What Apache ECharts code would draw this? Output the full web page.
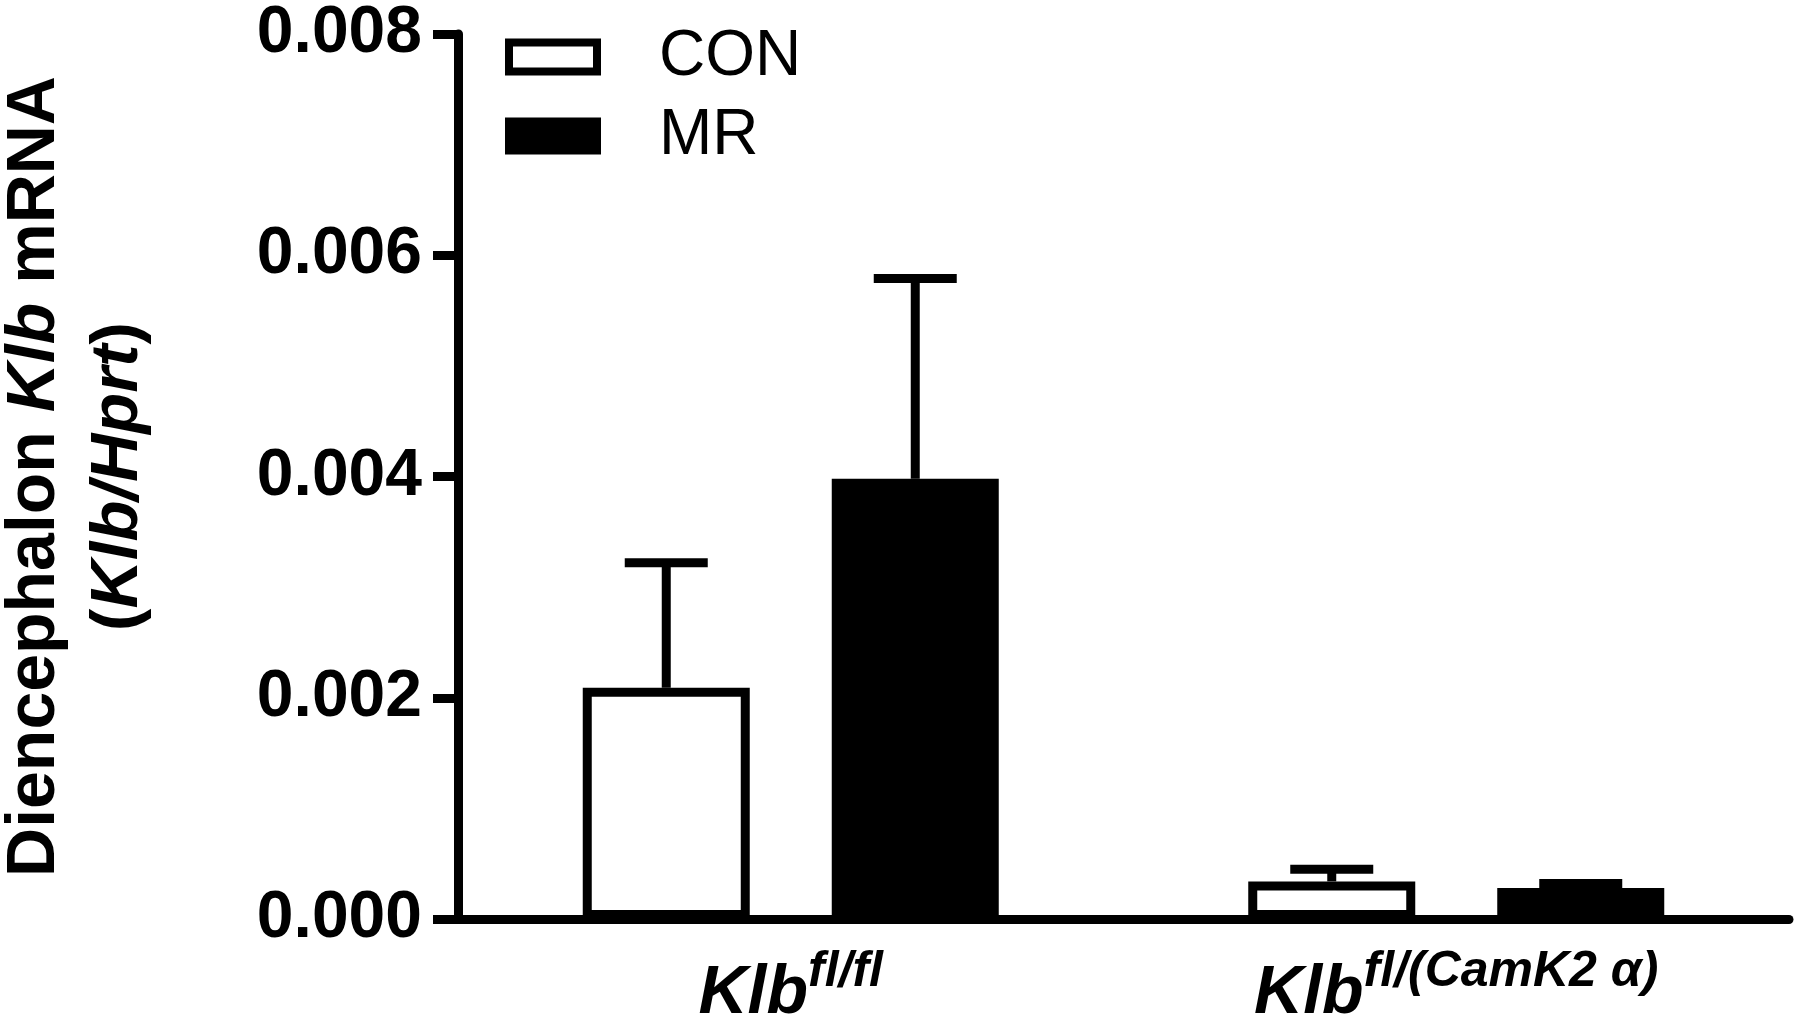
<!DOCTYPE html>
<html><head><meta charset="utf-8">
<script src="https://cdn.jsdelivr.net/npm/echarts@6/dist/echarts.min.js"></script>
<style>html,body{margin:0;padding:0;background:#fff}#c{width:1800px;height:1027px}</style>
</head><body><div id="c"></div>
<script>
// ---- data ----
const catMain = ['Klb', 'Klb'];
const catSup = ['fl/fl', 'fl/(CamK2 α)'];
const categories = ['Klb fl/fl', 'Klb fl/(CamK2 α)'];
const seriesNames = ['CON', 'MR'];
const conValues = [0.00209, 0.00034];
const conErrors = [0.00113, 0.00011];
const mrValues = [0.00398, 0.00028];
const mrErrors = [0.00181, 0.00004];
const yTickValues = [0, 0.002, 0.004, 0.006, 0.008];
const yTickLabels = ['0.000', '0.002', '0.004', '0.006', '0.008'];

// ---- style/layout ----
const FONT = '"Liberation Sans", Arial, Helvetica, sans-serif';
const BAR_W = 167;
const BAR_GAP_PX = 82;
const BAR_BORDER = 9;
const offsets = [-(BAR_W + BAR_GAP_PX) / 2, (BAR_W + BAR_GAP_PX) / 2];
const CAP_HALF = 41.5;

function errSeries(vals, errs, sIdx) {
  return {
    type: 'custom', z: 5, silent: true,
    encode: { x: 0, y: [1, 2] },
    data: vals.map((v, i) => [i, v, v + errs[i]]),
    renderItem(params, api) {
      const i = api.value(0);
      const base = api.coord([i, api.value(1)]);
      const top = api.coord([i, api.value(2)]);
      const x = base[0] + offsets[sIdx];
      return {
        type: 'group', children: [
          { type: 'line', shape: { x1: x, y1: base[1], x2: x, y2: top[1] }, style: { stroke: '#000', lineWidth: 9 } },
          { type: 'line', shape: { x1: x - CAP_HALF, y1: top[1], x2: x + CAP_HALF, y2: top[1] }, style: { stroke: '#000', lineWidth: 9 } }
        ]
      };
    }
  };
}

const chart = echarts.init(document.getElementById('c'), null, { renderer: 'canvas' });
chart.setOption({
  animation: false,
  backgroundColor: '#fff',
  textStyle: { fontFamily: FONT },
  grid: { left: 458, right: 11, top: 34, bottom: 108, containLabel: false, outerBoundsMode: 'none' },
  legend: {
    orient: 'vertical', left: 500, top: 20, itemGap: 15,
    itemWidth: 88, itemHeight: 29, icon: 'rect',
    textStyle: { fontFamily: FONT, fontSize: 64, lineHeight: 64, color: '#000', padding: [0, 0, 0, 57] },
    data: [
      { name: seriesNames[0], itemStyle: { color: '#fff', borderColor: '#000', borderWidth: 8 } },
      { name: seriesNames[1], itemStyle: { color: '#000', borderColor: '#000', borderWidth: 8 } }
    ]
  },
  xAxis: {
    type: 'category', data: categories,
    axisLine: { lineStyle: { color: '#000', width: 9 } },
    axisTick: { show: false },
    axisLabel: {
      margin: 40, interval: 0,
      formatter: (v, idx) => '{k|' + catMain[idx] + '}{s|' + catSup[idx] + '}',
      rich: {
        k: { fontFamily: FONT, fontSize: 68, fontWeight: 'bold', fontStyle: 'italic', color: '#000', lineHeight: 70 },
        s: { fontFamily: FONT, fontSize: 50, fontWeight: 'bold', fontStyle: 'italic', color: '#000', lineHeight: 51, padding: [0, 0, 43, 0] }
      }
    }
  },
  yAxis: {
    type: 'value', min: 0, max: 0.008, interval: 0.002,
    axisLine: { show: true, lineStyle: { color: '#000', width: 9 } },
    axisTick: { show: true, length: 25, lineStyle: { color: '#000', width: 9 } },
    splitLine: { show: false },
    axisLabel: {
      margin: 36, color: '#000', fontFamily: FONT, fontSize: 66, fontWeight: 'bold',
      formatter: v => { const k = yTickValues.findIndex(t => Math.abs(t - v) < 1e-9); return k >= 0 ? yTickLabels[k] : ''; }
    },
    name: '{b|Diencephalon }{i|Klb}{b| mRNA}\n{c|(}{j|Klb/Hprt}{c|)}',
    nameLocation: 'middle', nameRotate: 90, nameGap: 297,
    nameTextStyle: {
      rich: {
        b: { fontFamily: FONT, fontSize: 68, fontWeight: 'bold', color: '#000', lineHeight: 84 },
        i: { fontFamily: FONT, fontSize: 68, fontWeight: 'bold', fontStyle: 'italic', color: '#000', lineHeight: 84 },
        c: { fontFamily: FONT, fontSize: 67, fontWeight: 'bold', color: '#000', lineHeight: 84 },
        j: { fontFamily: FONT, fontSize: 67, fontWeight: 'bold', fontStyle: 'italic', color: '#000', lineHeight: 84 }
      }
    }
  },
  series: [
    { name: seriesNames[0], type: 'bar', data: conValues, barWidth: BAR_W, barGap: (BAR_GAP_PX / BAR_W * 100) + '%',
      itemStyle: { color: '#fff', borderColor: '#000', borderWidth: BAR_BORDER }, z: 2 },
    { name: seriesNames[1], type: 'bar', data: mrValues, barWidth: BAR_W, barGap: (BAR_GAP_PX / BAR_W * 100) + '%',
      itemStyle: { color: '#000', borderColor: '#000', borderWidth: BAR_BORDER }, z: 2 },
    errSeries(conValues, conErrors, 0),
    errSeries(mrValues, mrErrors, 1)
  ]
});
</script></body></html>
